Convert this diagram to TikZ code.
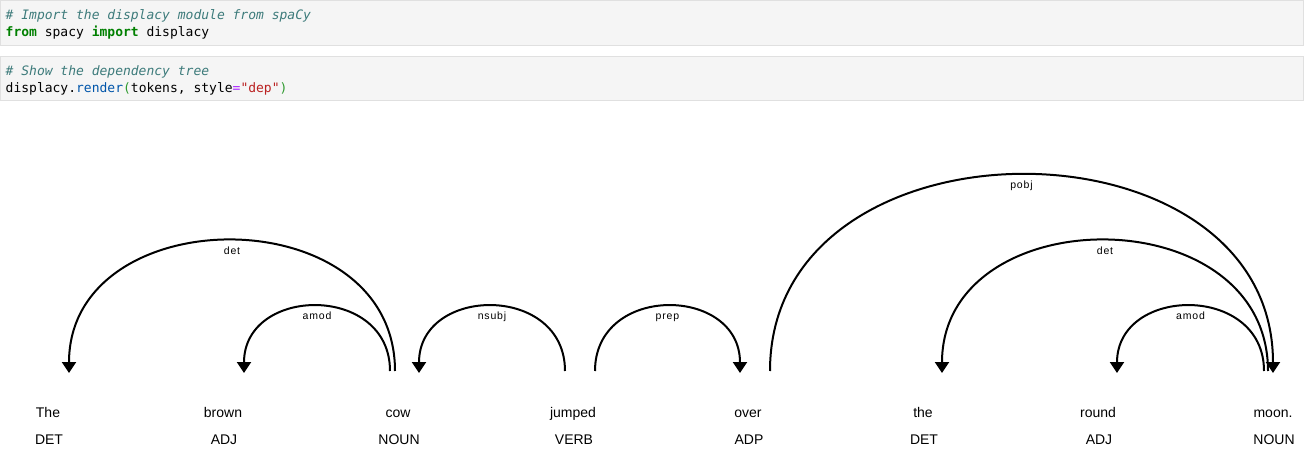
\documentclass[tikz,border=0pt]{standalone}
\usepackage{fontspec}
\setmainfont{Liberation Sans}
\setmonofont{DejaVu Sans Mono}
\newfontfamily\deplabelfont[LetterSpace=8]{Liberation Sans}
\usetikzlibrary{arrows.meta}

\definecolor{cellbg}{HTML}{F5F5F5}
\definecolor{cellborder}{HTML}{E0E0E0}
\definecolor{comment}{HTML}{3D7B7B}
\definecolor{keyword}{HTML}{008000}
\definecolor{prop}{HTML}{0055AA}
\definecolor{bracket}{HTML}{2E9A2E}
\definecolor{operator}{HTML}{AA22FF}
\definecolor{string}{HTML}{BA2121}

\tikzset{
  cell/.style={draw=cellborder, fill=cellbg, line width=1pt},
  codeline/.style={anchor=base west, inner sep=0pt, font=\fontsize{13}{16}\selectfont\ttfamily},
  word/.style={anchor=base, inner sep=0pt, font=\fontsize{14}{17}\selectfont},
  arc/.style={line width=2pt, -{Triangle[width=14pt,length=11pt]}},
  deplabel/.style={anchor=base, inner sep=0pt, yshift=-13.5pt, font=\fontsize{10.5}{12}\deplabelfont}
}

\begin{document}
\begin{tikzpicture}[x=1pt, y=-1pt]
  \useasboundingbox (0,0) rectangle (1304,465);

  % Code cells
  \draw[cell] (0.5,0.5) rectangle (1303.5,45.5);
  \draw[cell] (0.5,56.5) rectangle (1303.5,100.5);
  \node[codeline] (c1) at (5.5,19.5) {\color{comment}\itshape \# Import the displacy module from spaCy};
  \node[codeline] (c2) at (5.5,36.5) {\textcolor{keyword}{\bfseries from} spacy \textcolor{keyword}{\bfseries import} displacy};
  \node[codeline] (c3) at (5.5,75.5) {\color{comment}\itshape \# Show the dependency tree};
  \node[codeline] (c4) at (5.5,92.5) {displacy.\textcolor{prop}{render}\textcolor{bracket}{(}tokens, style\textcolor{operator}{=}\textcolor{string}{"dep"}\textcolor{bracket}{)}};

  % Tokens and tags
  \foreach \w/\t [count=\i from 0] in {The/DET, brown/ADJ, cow/NOUN, jumped/VERB, over/ADP, the/DET, round/ADJ, moon./NOUN} {
    \node[word] (w\i) at (48+175*\i, 417) {\w};
    \node[word] (t\i) at (49+175*\i, 444) {\t};
  }

  % Arc ends
  \coordinate (cow-det) at (395,371);
  \coordinate (the-det) at (69,373);
  \coordinate (cow-amod) at (390,371);
  \coordinate (brown-amod) at (244,373);
  \coordinate (jumped-nsubj) at (565,371);
  \coordinate (cow-nsubj) at (419,373);
  \coordinate (jumped-prep) at (595,371);
  \coordinate (over-prep) at (740,373);
  \coordinate (over-pobj) at (770,371);
  \coordinate (moon-pobj) at (1273,373);
  \coordinate (moon-det) at (1268,371);
  \coordinate (the2-det) at (942,373);
  \coordinate (moon-amod) at (1264,371);
  \coordinate (round-amod) at (1117,373);

  % Dependency arcs
  \foreach \s/\e/\lev/\lab in {cow-det/the-det/2/det, cow-amod/brown-amod/1/amod,
      jumped-nsubj/cow-nsubj/1/nsubj, jumped-prep/over-prep/1/prep,
      over-pobj/moon-pobj/3/pobj, moon-det/the2-det/2/det, moon-amod/round-amod/1/amod} {
    \draw[arc] (\s) .. controls +(0,-87.5*\lev) and +(0,-87.5*\lev) .. (\e)
      node[deplabel, pos=0.5] {\lab};
  }
\end{tikzpicture}
\end{document}
